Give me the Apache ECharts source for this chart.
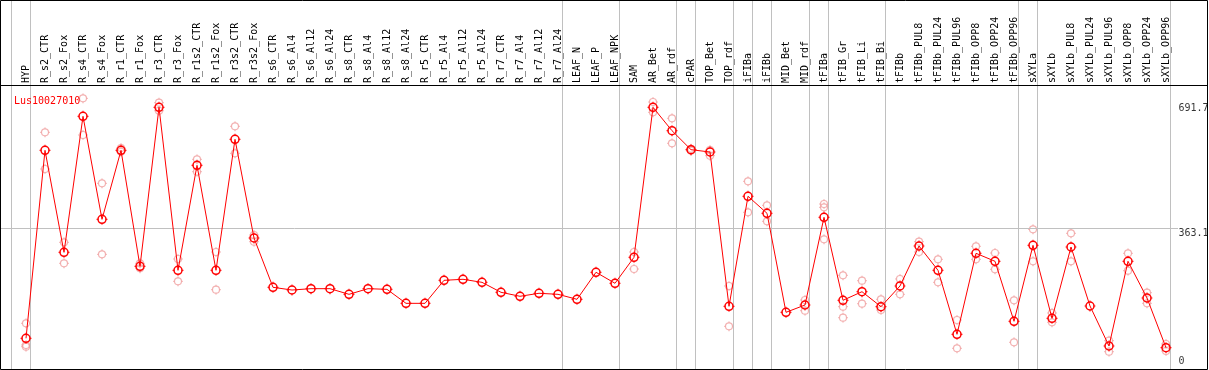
<!DOCTYPE html>
<html>
<head>
<meta charset="utf-8">
<script src="https://cdn.jsdelivr.net/npm/echarts@6/dist/echarts.min.js"></script>
<style>
html,body{margin:0;padding:0;background:#fff;}
#chart{width:1209px;height:370px;}
</style>
</head>
<body>
<div id="chart"></div>
<script>
// ---------- data ----------
const geneName = 'Lus10027010';
const categories = ['HYP','R_s2_CTR','R_s2_Fox','R_s4_CTR','R_s4_Fox','R_r1_CTR','R_r1_Fox','R_r3_CTR','R_r3_Fox','R_r1s2_CTR','R_r1s2_Fox','R_r3s2_CTR','R_r3s2_Fox','R_s6_CTR','R_s6_Al4','R_s6_Al12','R_s6_Al24','R_s8_CTR','R_s8_Al4','R_s8_Al12','R_s8_Al24','R_r5_CTR','R_r5_Al4','R_r5_Al12','R_r5_Al24','R_r7_CTR','R_r7_Al4','R_r7_Al12','R_r7_Al24','LEAF_N','LEAF_P','LEAF_NPK','SAM','AR_Bet','AR_rdf','cPAR','TOP_Bet','TOP_rdf','iFIBa','iFIBb','MID_Bet','MID_rdf','tFIBa','tFIB_Gr','tFIB_Li','tFIB_Bi','tFIBb','tFIBb_PUL8','tFIBb_PUL24','tFIBb_PUL96','tFIBb_OPP8','tFIBb_OPP24','tFIBb_OPP96','sXYLa','sXYLb','sXYLb_PUL8','sXYLb_PUL24','sXYLb_PUL96','sXYLb_OPP8','sXYLb_OPP24','sXYLb_OPP96'];
const meanValues = [73.9,568,299.9,657.4,386.6,568,263,681,252.6,528.6,252.6,597,337.5,207.9,200.8,204.3,204.3,189.5,204.3,202.6,165.8,165.8,226.3,229,221,194.8,184.3,192.2,189.5,176.4,247.4,218.5,286.8,681,619.6,569.7,563.6,158,447.2,402.5,142.2,161.4,391.9,173.8,196.4,157,211.4,316.5,252.6,84.4,297.3,276.3,118.6,318.3,126.4,313.9,158.8,53.6,276.3,179.8,49.2];
const replicateValues = [
  [113.3,56.3,51.8],[615.4,518.9],[326.2,271],[704.7,608.3],[481.3,294.6],[574,564.4],[271,257.9],[693.2,672],[282.3,223.7],[544.4,511.8],[300.7,201.6],[631.2,560.2],[345.4,327.8],
  [],[],[],[],[],[],[],[],[],[],[],[],[],[],[],[],[],[],[],
  [300.7,256],[695,668],[652.2,586.5],[572,567],[568.9,553.9],[211.4,105.4],[486.6,405.1],[423.5,381.4],[],[174.6,146.4],[426.9,418.2,334.1],[239.5,157,128],[225.3,164.8],[176.4,148.3],[229.8,189.5],
  [327.8,300.7],[281.5,221],[122,47.6],[315.7,281.5],[298.1,255.3],[173.8,63.4],[360.4,276.3],[140.4,115.9],[349.9,276.3],[],[67.6,38.6],[297.3,251.6],[193.7,165.9],[58.9,40.5]
];
const groupEnds = [-1,0,28,31,34,35,37,38,39,41,42,45,52,53,60];
const yTickLabels = [0, 363.1, 691.7];
const gridLineValue = 363.1;

// ---------- layout helpers ----------
const FONT = 'DejaVu Sans Mono';
const PX = 19;           // px per category
const X0 = 26;           // first category centre
const xMin = -X0 / PX, xMax = (1208 - X0) / PX;
const yZero = 366.4, yScale = 0.3804;
const yMin = -(369 - yZero) / yScale, yMax = yZero / yScale;
const labelX = (1178 - X0) / PX;

// four short ticks around a ring (12x12 box)
const tickPath = 'path://M6,0L6,2M6,10L6,12M0,6L2,6M10,6L12,6';

const repData = [];
replicateValues.forEach((arr, i) => arr.forEach(v => repData.push([i, v])));
const meanData = meanValues.map((v, i) => [i, v]);

const sepLines = groupEnds.map(g => [{coord:[g + 0.24, yMin]}, {coord:[g + 0.24, yMax]}]);

const PALE = '#f0a0a0', RED = '#ff0000';

const chart = echarts.init(document.getElementById('chart'), null, {renderer:'canvas'});
chart.setOption({
  animation: false,
  backgroundColor: '#fff',
  title: {
    text: geneName, left: 9, top: 91,
    textStyle: {color:RED, fontSize:10, fontWeight:'normal', fontFamily:FONT}
  },
  grid: [
    {left:0, top:0, width:1208, height:369},
    {left:16.5, top:85, width:1159, height:284}
  ],
  xAxis: [
    {type:'value', gridIndex:0, min:xMin, max:xMax, show:false},
    {type:'category', gridIndex:1, data:categories, position:'top', boundaryGap:true,
     axisLine:{show:false}, axisTick:{show:false}, splitLine:{show:false},
     axisLabel:{interval:0, rotate:90, margin:2, fontSize:10, fontFamily:FONT, color:'#000'}}
  ],
  yAxis: [
    {type:'value', gridIndex:0, min:yMin, max:yMax, show:false},
    {type:'value', gridIndex:1, show:false}
  ],
  graphic: [
    {type:'rect', shape:{x:0.5, y:0.5, width:1207, height:369}, style:{fill:null, stroke:'#000', lineWidth:1}, z:100},
    {type:'line', shape:{x1:0, y1:85.5, x2:1208, y2:85.5}, style:{stroke:'#000', lineWidth:1}, z:100}
  ],
  series: [
    {
      type:'line', xAxisIndex:0, yAxisIndex:0, data:[], silent:true,
      markLine:{silent:true, symbol:'none', animation:false, label:{show:false},
        lineStyle:{color:'#c0c0c0', width:1, type:'solid'},
        data: sepLines.concat([[{coord:[xMin, gridLineValue]}, {coord:[labelX, gridLineValue]}]])}
    },
    // replicate rings + ticks
    {
      type:'scatter', xAxisIndex:0, yAxisIndex:0, data:repData, silent:true,
      symbol:'circle', symbolSize:7, z:3,
      itemStyle:{color:'rgba(0,0,0,0)', borderColor:PALE, borderWidth:1.2}
    },
    {
      type:'scatter', xAxisIndex:0, yAxisIndex:0, data:repData, silent:true,
      symbol:tickPath, symbolSize:10, z:3,
      itemStyle:{color:'rgba(0,0,0,0)', borderColor:PALE, borderWidth:1}
    },
    // mean line with rings
    {
      type:'line', xAxisIndex:0, yAxisIndex:0, silent:true, z:5,
      data: meanData,
      symbol:'circle', symbolSize:8, showAllSymbol:true,
      lineStyle:{color:RED, width:1},
      itemStyle:{color:'rgba(0,0,0,0)', borderColor:RED, borderWidth:1.5}
    },
    {
      type:'scatter', xAxisIndex:0, yAxisIndex:0, data:meanData, silent:true,
      symbol:tickPath, symbolSize:11, z:5,
      itemStyle:{color:'rgba(0,0,0,0)', borderColor:RED, borderWidth:1.2}
    },
    {
      type:'scatter', xAxisIndex:0, yAxisIndex:0, silent:true, symbolSize:1, z:6,
      itemStyle:{color:'rgba(0,0,0,0)'},
      data: yTickLabels.map(v => ({
        value:[labelX, v],
        label:{show:true, position:'right', distance:0, formatter:String(v),
          verticalAlign: v === 0 ? 'bottom' : 'top',
          fontSize:10, fontFamily:FONT, color:'#000'}
      }))
    }
  ]
});
</script>
</body>
</html>
